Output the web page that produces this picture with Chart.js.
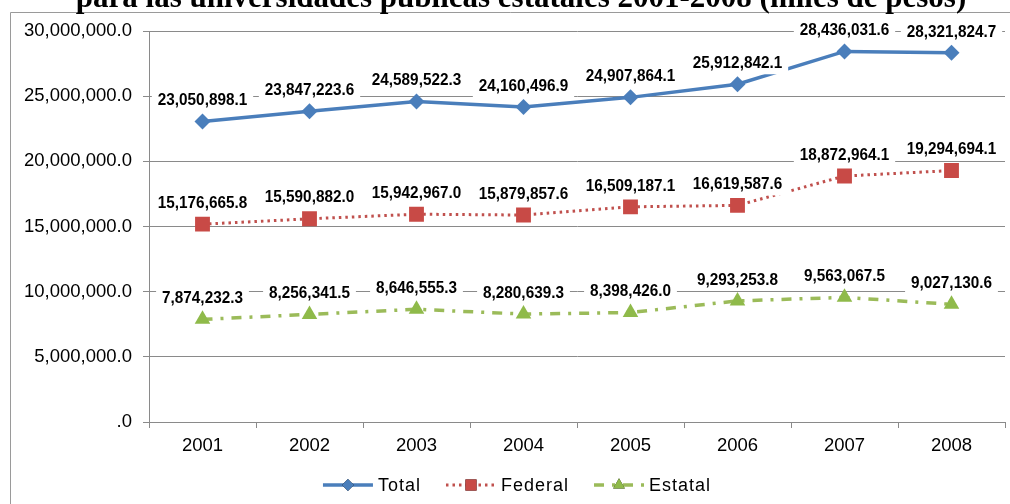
<!DOCTYPE html>
<html>
<head>
<meta charset="utf-8">
<script src="https://cdn.jsdelivr.net/npm/chart.js@4.4.1/dist/chart.umd.min.js"></script>
<style>
  html, body { margin: 0; padding: 0; background: #fff; overflow: hidden; }
  #wrap { position: relative; width: 1010px; height: 504px; }
  canvas { display: block; }
</style>
</head>
<body>
<div id="wrap"><canvas id="chart" width="1010" height="504"></canvas></div>
<script>
// --- Data ---
const years = ['2001', '2002', '2003', '2004', '2005', '2006', '2007', '2008'];
const total = [23050898.1, 23847223.6, 24589522.3, 24160496.9, 24907864.1, 25912842.1, 28436031.6, 28321824.7];
const federal = [15176665.8, 15590882.0, 15942967.0, 15879857.6, 16509187.1, 16619587.6, 18872964.1, 19294694.1];
const estatal = [7874232.3, 8256341.5, 8646555.3, 8280639.3, 8398426.0, 9293253.8, 9563067.5, 9027130.6];
const yTicks = [0, 5000000, 10000000, 15000000, 20000000, 25000000, 30000000];
const titleText = 'para las universidades públicas estatales 2001-2008 (miles de pesos)';

const gridGray = '#8a8a8a';

const fmt = v => v === 0 ? '.0' : v.toLocaleString('en-US', { minimumFractionDigits: 1, maximumFractionDigits: 1 });

// --- Frame + title ---
const framePlugin = {
    id: 'frame',
    beforeDraw(chart) {
        const ctx = chart.ctx;
        ctx.save();
        ctx.fillStyle = '#fff';
        ctx.fillRect(0, 0, chart.width, chart.height);
        ctx.strokeStyle = '#9a9a9a';
        ctx.lineWidth = 1;
        ctx.beginPath();
        ctx.moveTo(10.5, 504);
        ctx.lineTo(10.5, 12.5);
        ctx.lineTo(1010, 12.5);
        ctx.stroke();
        ctx.fillStyle = '#000';
        ctx.font = 'bold 31px "Liberation Serif", "Times New Roman", serif';
        ctx.textAlign = 'center';
        ctx.textBaseline = 'alphabetic';
        ctx.fillText(titleText, 521, 7);
        ctx.restore();
    }
};

// --- Data labels with white boxes ---
const labelPlugin = {
    id: 'valueLabels',
    afterDatasetsDraw(chart) {
        const ctx = chart.ctx;
        const sx = 0.9;
        ctx.save();
        ctx.font = 'bold 17px "Liberation Sans", Arial, sans-serif';
        ctx.textAlign = 'center';
        ctx.textBaseline = 'middle';
        chart.data.datasets.forEach((ds, di) => {
            const meta = chart.getDatasetMeta(di);
            meta.data.forEach((pt, i) => {
                const txt = fmt(ds.data[i]);
                const w = ctx.measureText(txt).width * sx;
                const cy = pt.y - 21;
                ctx.fillStyle = '#fff';
                ctx.fillRect(pt.x - w / 2 - 6, cy - 11, w + 12, 22);
                ctx.fillStyle = '#000';
                ctx.save();
                ctx.translate(pt.x, cy);
                ctx.scale(sx, 1);
                ctx.fillText(txt, 0, 0);
                ctx.restore();
            });
        });
        ctx.restore();
    }
};

// --- Legend (line + marker + text) ---
const legendPlugin = {
    id: 'lineLegend',
    afterDraw(chart) {
        const ctx = chart.ctx;
        ctx.save();
        ctx.font = '18px "Liberation Sans", Arial, sans-serif';
        ctx.letterSpacing = '1px';
        ctx.textBaseline = 'middle';
        ctx.textAlign = 'left';
        const y = 485;
        const items = chart.data.datasets;
        const widths = items.map(ds => ctx.measureText(ds.label).width);
        const totalW = widths.reduce((a, b) => a + b, 0) + items.length * 55 + (items.length - 1) * 25;
        let x = 517 - totalW / 2;
        items.forEach((ds, i) => {
            ctx.save();
            ctx.strokeStyle = ds.borderColor;
            ctx.lineWidth = ds.borderWidth;
            ctx.setLineDash(ds.borderDash || []);
            ctx.lineCap = ds.borderCapStyle || 'butt';
            ctx.beginPath();
            ctx.moveTo(x, y);
            ctx.lineTo(x + 50, y);
            ctx.stroke();
            ctx.restore();
            Chart.helpers.drawPoint(ctx, {
                pointStyle: ds.pointStyle,
                radius: ds.pointRadius * 0.75,
                borderWidth: 0
            }, x + 25, y);
            ctx.fillStyle = ds.pointBackgroundColor;
            ctx.fill();
            ctx.fillStyle = '#000';
            ctx.fillText(ds.label, x + 55, y + 1);
            x += 55 + widths[i] + 25;
        });
        ctx.restore();
    }
};

const ctx = document.getElementById('chart').getContext('2d');

new Chart(ctx, {
    type: 'line',
    data: {
        labels: years,
        datasets: [
            {
                label: 'Total',
                data: total,
                borderColor: '#4a7ebb',
                backgroundColor: '#4a7ebb',
                pointBackgroundColor: '#4a7ebb',
                pointBorderWidth: 0,
                borderWidth: 3.5,
                pointStyle: 'rectRot',
                pointRadius: 8,
                tension: 0
            },
            {
                label: 'Federal',
                data: federal,
                borderColor: '#c0504d',
                backgroundColor: '#c0504d',
                pointBackgroundColor: '#c84a46',
                pointBorderWidth: 0,
                borderWidth: 3,
                borderDash: [2.5, 4],
                pointStyle: 'rect',
                pointRadius: 10.5,
                tension: 0
            },
            {
                label: 'Estatal',
                data: estatal,
                borderColor: '#9bbb59',
                backgroundColor: '#9bbb59',
                pointBackgroundColor: '#8fba4a',
                pointBorderWidth: 0,
                borderWidth: 3.5,
                borderDash: [10, 8, 3, 8],
                pointStyle: 'triangle',
                pointRadius: 9,
                tension: 0
            }
        ]
    },
    options: {
        responsive: false,
        animation: false,
        events: [],
        layout: { autoPadding: false, padding: { left: 10, right: 5, top: 31, bottom: 0 } },
        plugins: {
            legend: { display: false },
            title: { display: false },
            tooltip: { enabled: false }
        },
        scales: {
            x: {
                offset: true,
                grid: {
                    offset: true,
                    drawOnChartArea: false,
                    drawTicks: true,
                    tickLength: 6,
                    color: gridGray
                },
                border: { display: true, color: gridGray, width: 1 },
                ticks: {
                    color: '#000',
                    padding: 7,
                    font: { family: '"Liberation Sans", Arial, sans-serif', size: 18.5 },
                    maxRotation: 0
                },
                afterFit(scale) {
                    scale.height = 82;
                    scale.paddingLeft = 0;
                    scale.paddingRight = 0;
                }
            },
            y: {
                min: 0,
                max: 30000000,
                afterBuildTicks(scale) { scale.ticks = yTicks.map(v => ({ value: v })); },
                grid: {
                    color: gridGray,
                    tickLength: 6,
                    drawTicks: true
                },
                border: { display: true, color: gridGray, width: 1 },
                ticks: {
                    color: '#000',
                    padding: 11,
                    font: { family: '"Liberation Sans", Arial, sans-serif', size: 18.5 },
                    callback: v => fmt(v)
                },
                afterFit(scale) { scale.width = 139; }
            }
        }
    },
    plugins: [framePlugin, labelPlugin, legendPlugin]
});
</script>
</body>
</html>
